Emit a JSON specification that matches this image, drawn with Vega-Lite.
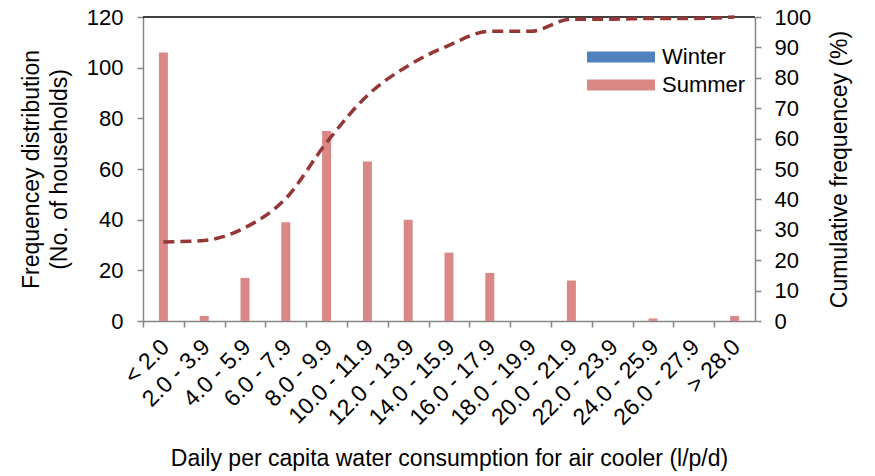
{
  "$schema": "https://vega.github.io/schema/vega-lite/v6.json",
  "width": 612,
  "height": 304,
  "autosize": {"type": "none"},
  "padding": {"left": 143, "top": 17, "right": 120, "bottom": 155},
  "config": {
    "font": "Liberation Sans",
    "view": {"stroke": null},
    "axis": {
      "labelFontSize": 22,
      "titleFontSize": 23,
      "titleFontWeight": "normal",
      "labelColor": "#000000",
      "titleColor": "#000000",
      "domainColor": "#868686",
      "tickColor": "#868686",
      "domainWidth": 1.5,
      "tickWidth": 1.5,
      "grid": false,
      "labelFont": "Liberation Sans",
      "titleFont": "Liberation Sans"
    },
    "legend": {"labelFont": "Liberation Sans", "labelColor": "#000000"}
  },
  "datasets": {
    "freq": [
      {"range": "< 2.0", "season": "Winter", "count": 0},
      {"range": "< 2.0", "season": "Summer", "count": 106},
      {"range": "2.0 - 3.9", "season": "Winter", "count": 0},
      {"range": "2.0 - 3.9", "season": "Summer", "count": 2},
      {"range": "4.0 - 5.9", "season": "Winter", "count": 0},
      {"range": "4.0 - 5.9", "season": "Summer", "count": 17},
      {"range": "6.0 - 7.9", "season": "Winter", "count": 0},
      {"range": "6.0 - 7.9", "season": "Summer", "count": 39},
      {"range": "8.0 - 9.9", "season": "Winter", "count": 0},
      {"range": "8.0 - 9.9", "season": "Summer", "count": 75},
      {"range": "10.0 - 11.9", "season": "Winter", "count": 0},
      {"range": "10.0 - 11.9", "season": "Summer", "count": 63},
      {"range": "12.0 - 13.9", "season": "Winter", "count": 0},
      {"range": "12.0 - 13.9", "season": "Summer", "count": 40},
      {"range": "14.0 - 15.9", "season": "Winter", "count": 0},
      {"range": "14.0 - 15.9", "season": "Summer", "count": 27},
      {"range": "16.0 - 17.9", "season": "Winter", "count": 0},
      {"range": "16.0 - 17.9", "season": "Summer", "count": 19},
      {"range": "18.0 - 19.9", "season": "Winter", "count": 0},
      {"range": "18.0 - 19.9", "season": "Summer", "count": 0},
      {"range": "20.0 - 21.9", "season": "Winter", "count": 0},
      {"range": "20.0 - 21.9", "season": "Summer", "count": 16},
      {"range": "22.0 - 23.9", "season": "Winter", "count": 0},
      {"range": "22.0 - 23.9", "season": "Summer", "count": 0},
      {"range": "24.0 - 25.9", "season": "Winter", "count": 0},
      {"range": "24.0 - 25.9", "season": "Summer", "count": 1},
      {"range": "26.0 - 27.9", "season": "Winter", "count": 0},
      {"range": "26.0 - 27.9", "season": "Summer", "count": 0},
      {"range": "> 28.0", "season": "Winter", "count": 0},
      {"range": "> 28.0", "season": "Summer", "count": 2}
    ],
    "cum": [
      {"range": "< 2.0", "cum": 26.0},
      {"range": "2.0 - 3.9", "cum": 26.5},
      {"range": "4.0 - 5.9", "cum": 30.7},
      {"range": "6.0 - 7.9", "cum": 40.3},
      {"range": "8.0 - 9.9", "cum": 58.7},
      {"range": "10.0 - 11.9", "cum": 74.2},
      {"range": "12.0 - 13.9", "cum": 84.0},
      {"range": "14.0 - 15.9", "cum": 90.7},
      {"range": "16.0 - 17.9", "cum": 95.3},
      {"range": "18.0 - 19.9", "cum": 95.3},
      {"range": "20.0 - 21.9", "cum": 99.3},
      {"range": "22.0 - 23.9", "cum": 99.3},
      {"range": "24.0 - 25.9", "cum": 99.5},
      {"range": "26.0 - 27.9", "cum": 99.5},
      {"range": "> 28.0", "cum": 100.0}
    ]
  },
  "layer": [
    {
      "layer": [
        {
          "data": {"name": "freq"},
          "mark": {"type": "bar", "size": 9},
          "encoding": {
            "x": {
              "field": "range",
              "type": "nominal",
              "sort": ["< 2.0", "2.0 - 3.9", "4.0 - 5.9", "6.0 - 7.9", "8.0 - 9.9", "10.0 - 11.9", "12.0 - 13.9", "14.0 - 15.9", "16.0 - 17.9", "18.0 - 19.9", "20.0 - 21.9", "22.0 - 23.9", "24.0 - 25.9", "26.0 - 27.9", "> 28.0"],
              "scale": {"paddingInner": 0, "paddingOuter": 0},
              "axis": {
                "title": "Daily per capita water consumption for air cooler (l/p/d)",
                "labelAngle": -45,
                "labelAlign": "right",
                "labelBaseline": "middle",
                "labelOverlap": false,
                "labelFontSize": 23,
                "labelPadding": 16,
                "tickSize": 6,
                "tickOffset": -20.4,
                "labelOffset": 22,
                "titlePadding": 18
              }
            },
            "y": {
              "field": "count",
              "type": "quantitative",
              "stack": null,
              "scale": {"domain": [0, 120], "nice": false},
              "axis": {
                "title": ["Frequencey distribution", "(No. of households)"],
                "values": [0, 20, 40, 60, 80, 100, 120],
                "tickSize": 6,
                "labelPadding": 14,
                "titlePadding": 15,
                "titleLineHeight": 28
              }
            },
            "color": {
              "field": "season",
              "type": "nominal",
              "scale": {"domain": ["Winter", "Summer"], "range": ["#4F81BD", "#D98886"]},
              "legend": {
                "title": null,
                "orient": "none",
                "legendX": 444,
                "legendY": 26,
                "padding": 0,
                "symbolType": "M-1,-0.16H1V0.16H-1Z",
                "symbolSize": 4624,
                "symbolStrokeWidth": 0,
                "symbolOpacity": 1,
                "labelFontSize": 22,
                "labelOffset": 7,
                "rowPadding": 0,
                "clipHeight": 28
              }
            }
          }
        },
        {
          "data": {"values": [{}]},
          "mark": {"type": "rule", "color": "#000000", "strokeWidth": 1.5},
          "encoding": {"y": {"datum": 120}}
        }
      ]
    },
    {
      "data": {"name": "cum"},
      "mark": {"type": "line", "color": "#953735", "strokeWidth": 3.5, "strokeDash": [11, 6], "interpolate": "monotone"},
      "encoding": {
        "x": {
          "field": "range",
          "type": "nominal",
          "sort": ["< 2.0", "2.0 - 3.9", "4.0 - 5.9", "6.0 - 7.9", "8.0 - 9.9", "10.0 - 11.9", "12.0 - 13.9", "14.0 - 15.9", "16.0 - 17.9", "18.0 - 19.9", "20.0 - 21.9", "22.0 - 23.9", "24.0 - 25.9", "26.0 - 27.9", "> 28.0"]
        },
        "y": {
          "field": "cum",
          "type": "quantitative",
          "scale": {"domain": [0, 100], "nice": false},
          "axis": {
            "orient": "right",
            "title": "Cumulative frequencey (%)",
            "titleAngle": -90,
            "titleBaseline": "top",
            "values": [0, 10, 20, 30, 40, 50, 60, 70, 80, 90, 100],
            "tickSize": 6,
            "labelPadding": 13,
            "titlePadding": 18
          }
        }
      }
    }
  ],
  "resolve": {"scale": {"y": "independent"}}
}
